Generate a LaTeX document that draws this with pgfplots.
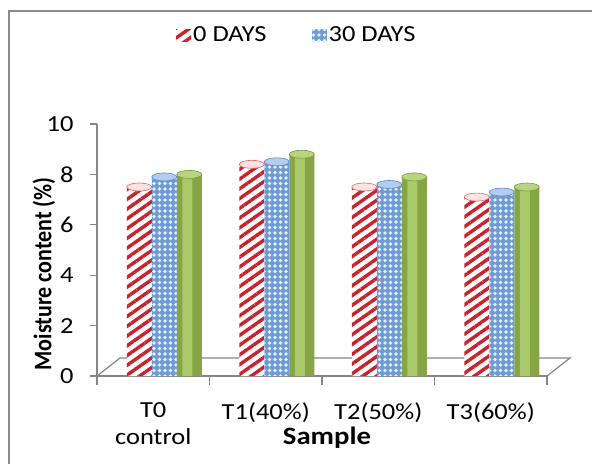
\documentclass[border=0pt]{standalone}
\usepackage{fontspec}
\setmainfont{Carlito}[FakeStretch=1.15]
\usepackage{graphicx}
\usepackage{pgfplots}
\usepackage{pgfplotstable}
\pgfplotsset{compat=1.18}
\usetikzlibrary{patterns.meta}

\definecolor{axisgray}{HTML}{868686}
\definecolor{frameg}{HTML}{8C8C8C}
\definecolor{stripered}{HTML}{C8232C}
\definecolor{redtop}{HTML}{FBE3E3}
\definecolor{bluebase}{HTML}{6F9AD3}
\definecolor{bluedot}{HTML}{E4EFFB}
\definecolor{bluetop}{HTML}{B3CDEE}
\definecolor{blueedge}{HTML}{5A87C5}
\definecolor{greenbase}{HTML}{86A646}
\definecolor{greenhi}{HTML}{A9C96A}
\definecolor{greentop}{HTML}{B8D47E}
\definecolor{greenedge}{HTML}{789840}

\newcommand\chartfont{\fontsize{23}{27}\selectfont}

% cylinder cap drawn on top of each bar
\pgfdeclareplotmark{cyltop}{%
  \pgfpathellipse{\pgfpointorigin}{\pgfqpoint{12.5pt}{0pt}}{\pgfqpoint{0pt}{4pt}}%
  \pgfusepathqfillstroke}

% moisture content (%) per sample after storage
\pgfplotstableread{
idx dayzero daythirty daysixty
0   7.5     7.9       8.0
1   8.4     8.5       8.8
2   7.5     7.6       7.9
3   7.1     7.3       7.5
}\moisture

\begin{document}
\begin{tikzpicture}[x=1pt,y=1pt]
\useasboundingbox (0,0) rectangle (592,464);
\draw[frameg, line width=1.6pt] (9,0) -- (9,453) -- (592,453);
\begin{axis}[
  at={(97pt,88pt)}, anchor=south west,
  scale only axis, width=450pt, height=252pt,
  xmin=-0.5, xmax=3.5, ymin=0, ymax=10,
  clip=false,
  axis x line*=bottom, axis y line*=left,
  axis line style={axisgray, line width=1.2pt},
  tick align=outside,
  major tick length=7pt,
  ytick={0,2,...,10},
  ytick style={axisgray, line width=1.2pt},
  xtick={0,1,2,3},
  xticklabels={{T0\\control},{T1(40\%)},{T2(50\%)},{T3(60\%)}},
  xtick style={draw=none},
  extra x ticks={-0.5,0.5,1.5,2.5,3.5},
  extra x tick labels={},
  extra x tick style={every x tick/.style={draw=axisgray, line width=1.2pt}, major tick length=9pt},
  /pgf/number format/assume math mode=true,
  ticklabel style={font=\chartfont},
  xticklabel style={align=center, yshift=-16pt},
  yticklabel style={xshift=-13pt},
  xlabel={\textbf{Sample}},
  ylabel={\scalebox{0.87}[1.15]{\bfseries Moisture content (\%)}},
  xlabel style={font=\fontsize{25}{29}\selectfont, at={(axis description cs:0.5,0)}, anchor=north, yshift=-47pt, xshift=5pt},
  ylabel style={font=\fontsize{22}{26}\selectfont, at={(axis description cs:-0.118,0.405)}, anchor=center},
  legend style={draw=none, fill=none, font=\chartfont,
    at={(axis description cs:0.444,1.353)}, anchor=center,
    legend columns=-1,
    /tikz/every even column/.append style={column sep=43pt}},
  legend image code/.code={\draw[#1, draw=none] (0pt,-6pt) rectangle (15pt,6pt);},
  every axis plot/.append style={bar width=25pt},
]
% floor of the plot area
\draw[axisgray, line width=1.2pt] (axis cs:-0.5,0) -- ([shift={(23pt,18pt)}]axis cs:-0.5,0)
  -- ([shift={(23pt,18pt)}]axis cs:3.5,0) -- (axis cs:3.5,0);

\addplot[ybar, bar shift=-14pt, draw=none, fill=white,
  postaction={pattern={Lines[angle=35, distance=8pt, line width=3.4pt]}, pattern color=stripered}]
  table[x=idx, y=dayzero] {\moisture};
\addplot[ybar, bar shift=11pt, draw=none, fill=bluebase,
  postaction={pattern={Dots[distance=5.5pt, radius=1.9pt]}, pattern color=bluedot}]
  table[x=idx, y=daythirty] {\moisture};
\addplot[ybar, bar shift=36pt, draw=none, fill=greenbase]
  table[x=idx, y=daysixty] {\moisture};
% highlight strip on the green cylinders
\addplot[ybar, forget plot, bar width=10pt, bar shift=34pt, draw=none, fill=greenhi]
  table[x=idx, y=daysixty] {\moisture};

% caps (bar offsets: -14pt, 11pt, 36pt at 112.5pt per category)
\addplot[forget plot, only marks, mark=cyltop, mark options={fill=redtop, draw=stripered!70, line width=0.6pt}]
  table[x expr=\thisrow{idx}-0.1244, y=dayzero] {\moisture};
\addplot[forget plot, only marks, mark=cyltop, mark options={fill=bluetop, draw=blueedge, line width=0.6pt}]
  table[x expr=\thisrow{idx}+0.0978, y=daythirty] {\moisture};
\addplot[forget plot, only marks, mark=cyltop, mark options={fill=greentop, draw=greenedge, line width=0.6pt}]
  table[x expr=\thisrow{idx}+0.32, y=daysixty] {\moisture};
\legend{0 DAYS, 30 DAYS}
\end{axis}
\end{tikzpicture}
\end{document}
